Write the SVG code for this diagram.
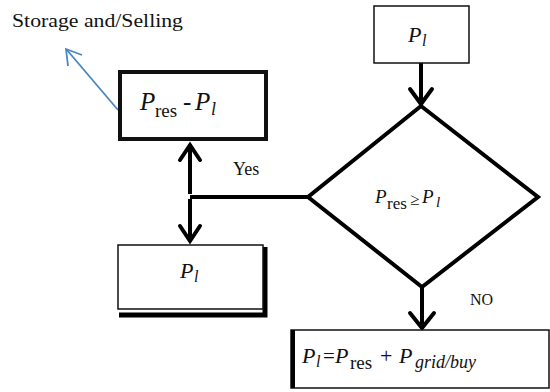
<svg xmlns="http://www.w3.org/2000/svg" width="550" height="392" viewBox="0 0 550 392">
<defs>
<style>
.t{font-family:"Liberation Serif","DejaVu Serif","Times New Roman",serif;fill:#111;}
.m{font-family:"Liberation Serif","DejaVu Serif","Times New Roman",serif;font-style:italic;fill:#111;}
.s{font-family:"Liberation Serif","DejaVu Serif","Times New Roman",serif;fill:#111;}
.box{fill:#fff;stroke:#111;}
.con{fill:none;stroke:#000;stroke-width:4;stroke-linejoin:miter;}
.head{fill:none;stroke:#000;stroke-width:4;stroke-linecap:round;stroke-linejoin:miter;}
</style>
</defs>
<rect width="550" height="392" fill="#fff"/>

<g id="storage-label">
<text class="t" x="12" y="27" font-size="18" textLength="171" lengthAdjust="spacingAndGlyphs">Storage and/Selling</text>
</g>

<g id="connectors">
<line x1="118" y1="110" x2="67" y2="50" stroke="#4a86c0" stroke-width="1.8"/>
<polyline points="68,66 66,49 82,55" fill="none" stroke="#4a86c0" stroke-width="1.8"/>
<line class="con" x1="421" y1="63" x2="421" y2="104"/>
<polyline class="head" points="410,89 421,104 432,89"/>
<line class="con" x1="308" y1="197" x2="190" y2="197"/>
<line class="con" x1="190" y1="144" x2="190" y2="194"/>
<line class="con" x1="190" y1="199" x2="190" y2="241"/>
<polyline class="head" points="180,160 190,145 200,160"/>
<polyline class="head" points="180,226 190,241 200,226"/>
<line class="con" x1="422" y1="287" x2="422" y2="328"/>
<polyline class="head" points="410,313 422,328 434,313"/>
</g>

<g id="node-pres-pl">
<rect class="box" x="120" y="72" width="146" height="67" stroke-width="4"/>
<text class="m" x="140" y="110" font-size="25">P</text>
<text class="s" x="155" y="117" font-size="19">res</text>
<text class="s" x="183" y="110" font-size="25">-</text>
<text class="m" x="195" y="110" font-size="25">P</text>
<text class="m" x="211" y="115" font-size="18">l</text>
</g>

<g id="node-pl-top">
<rect class="box" x="374" y="6" width="95" height="57" stroke-width="1.5"/>
<text class="m" x="408" y="42" font-size="22">P</text>
<text class="m" x="422" y="46" font-size="16">l</text>
</g>

<g id="node-decision">
<polygon points="421,106 538,197 422,287 308,197" fill="#fff" stroke="#000" stroke-width="4" stroke-linejoin="miter"/>
<text class="m" x="375" y="203" font-size="19">P</text>
<text class="s" x="387" y="209" font-size="17">res</text>
<text class="s" x="410" y="205" font-size="17">≥</text>
<text class="m" x="422" y="203" font-size="19">P</text>
<text class="m" x="436" y="207" font-size="15">l</text>
</g>

<g id="label-yes">
<text class="t" x="233" y="175" font-size="18">Yes</text>
</g>

<g id="node-pl-left">
<path d="M265,247 V315 H119" fill="none" stroke="#000" stroke-width="5"/>
<rect class="box" x="118" y="245" width="145" height="64" stroke-width="1.5"/>
<text class="m" x="180" y="278" font-size="22">P</text>
<text class="m" x="194" y="282" font-size="16">l</text>
</g>

<g id="label-no">
<text class="t" x="470" y="305" font-size="16">NO</text>
</g>

<g id="node-bottom">
<rect class="box" x="291" y="330" width="258" height="58" stroke-width="1.5"/>
<line x1="293" y1="330" x2="293" y2="388" stroke="#000" stroke-width="4"/>
<text class="m" x="302" y="363" font-size="22">P</text>
<text class="m" x="316" y="367" font-size="16">l</text>
<text class="s" x="323" y="363" font-size="21">=</text>
<text class="m" x="335" y="363" font-size="22">P</text>
<text class="s" x="350" y="369" font-size="19">res</text>
<text class="s" x="380" y="363" font-size="22">+</text>
<text class="m" x="399" y="363" font-size="22">P</text>
<text class="m" x="415" y="368" font-size="18">grid/buy</text>
</g>
</svg>
